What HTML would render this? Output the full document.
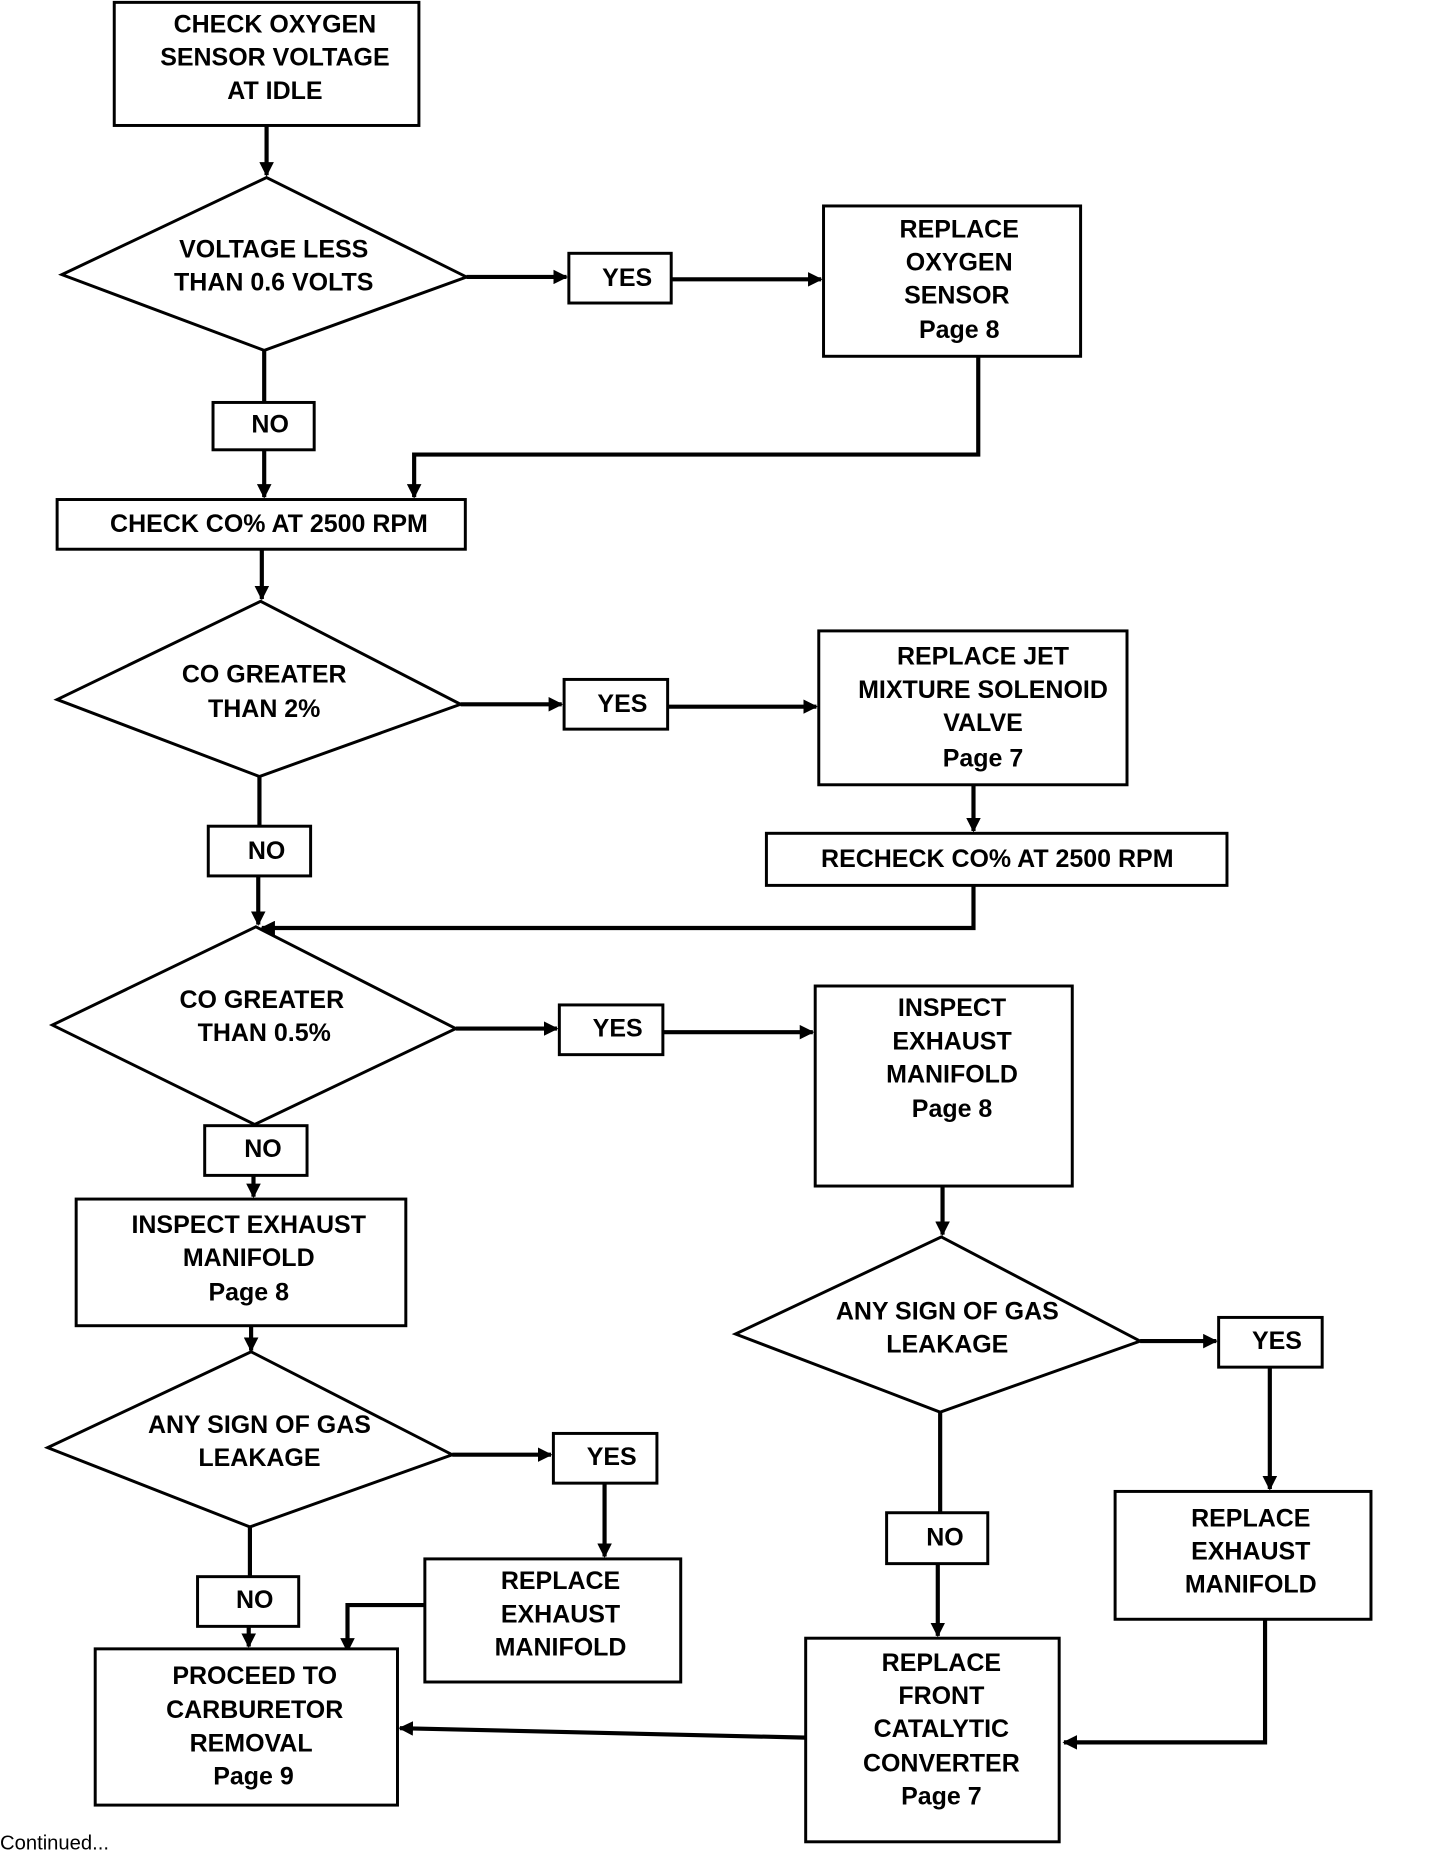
<!DOCTYPE html>
<html><head><meta charset="utf-8"><style>
html,body{margin:0;padding:0;background:#fff;}
svg{display:block;}
text{font-family:"Liberation Sans",Arial,sans-serif;font-weight:bold;font-size:21px;fill:#000;text-anchor:middle;dominant-baseline:middle;}
.b{fill:#fff;stroke:#000;stroke-width:2.5;}
.l{fill:none;stroke:#000;stroke-width:3.5;}
</style></head><body>
<svg width="1440" height="1856" viewBox="0 0 1210 1568" preserveAspectRatio="none" xmlns="http://www.w3.org/2000/svg">
<defs><marker id="a" viewBox="0 0 10 10" refX="9" refY="5" markerWidth="3.5" markerHeight="3.5" orient="auto"><path d="M0,0 L10,5 L0,10 z" fill="#000"/></marker></defs>

<!-- connectors -->
<g class="l">
<path d="M224,106 V148" marker-end="url(#a)"/>
<path d="M392,234 H476" marker-end="url(#a)"/>
<path d="M564,236 H690" marker-end="url(#a)"/>
<path d="M222,296 V340"/>
<path d="M222,380 V420" marker-end="url(#a)"/>
<path d="M822,301 V384 H348 V420" marker-end="url(#a)"/>
<path d="M220,464 V506" marker-end="url(#a)"/>
<path d="M387,595 H472" marker-end="url(#a)"/>
<path d="M561,597 H686" marker-end="url(#a)"/>
<path d="M818,663 V702" marker-end="url(#a)"/>
<path d="M218,656 V698"/>
<path d="M217,740 V781" marker-end="url(#a)"/>
<path d="M818,748 V784 H220" marker-end="url(#a)"/>
<path d="M383,869 H468" marker-end="url(#a)"/>
<path d="M557,872 H683" marker-end="url(#a)"/>
<path d="M214,950 V951"/>
<path d="M214,930 V951"/>
<path d="M213,993 V1011" marker-end="url(#a)"/>
<path d="M211,1120 V1141" marker-end="url(#a)"/>
<path d="M380,1229 H463" marker-end="url(#a)"/>
<path d="M508,1253 V1315" marker-end="url(#a)"/>
<path d="M357,1356 H292 V1395" marker-end="url(#a)"/>
<path d="M210,1290 V1332"/>
<path d="M209,1374 V1391" marker-end="url(#a)"/>
<path d="M792,1002 V1043" marker-end="url(#a)"/>
<path d="M958,1133 H1022" marker-end="url(#a)"/>
<path d="M1067,1155 V1258" marker-end="url(#a)"/>
<path d="M1063,1368 V1472 H894" marker-end="url(#a)"/>
<path d="M790,1193 V1278"/>
<path d="M788,1321 V1382" marker-end="url(#a)"/>
<path d="M677,1468 L336,1460" marker-end="url(#a)"/>
</g>

<!-- shapes -->
<rect class="b" x="96" y="2" width="256" height="104"/>
<polygon class="b" points="224,150 392,234 222,296 52,232"/>
<rect class="b" x="478" y="214" width="86" height="42"/>
<rect class="b" x="692" y="174" width="216" height="127"/>
<rect class="b" x="179" y="340" width="85" height="40"/>
<rect class="b" x="48" y="422" width="343" height="42"/>
<polygon class="b" points="219,508 387,595 218,656 48,591"/>
<rect class="b" x="474" y="574" width="87" height="42"/>
<rect class="b" x="688" y="533" width="259" height="130"/>
<rect class="b" x="644" y="704" width="387" height="44"/>
<rect class="b" x="175" y="698" width="86" height="42"/>
<polygon class="b" points="215,783 383,869 214,950 44,866"/>
<rect class="b" x="470" y="849" width="87" height="42"/>
<rect class="b" x="685" y="833" width="216" height="169"/>
<rect class="b" x="172" y="951" width="86" height="42"/>
<rect class="b" x="64" y="1013" width="277" height="107"/>
<polygon class="b" points="211,1142 380,1229 210,1290 40,1223"/>
<rect class="b" x="465" y="1211" width="87" height="42"/>
<rect class="b" x="357" y="1317" width="215" height="104"/>
<rect class="b" x="166" y="1332" width="85" height="42"/>
<rect class="b" x="80" y="1393" width="254" height="132"/>
<polygon class="b" points="791,1045 958,1133 790,1193 618,1127"/>
<rect class="b" x="1024" y="1113" width="87" height="42"/>
<rect class="b" x="937" y="1260" width="215" height="108"/>
<rect class="b" x="745" y="1278" width="85" height="43"/>
<rect class="b" x="677" y="1384" width="213" height="172"/>

<!-- labels -->
<text x="231" y="22">CHECK OXYGEN</text>
<text x="231" y="50">SENSOR VOLTAGE</text>
<text x="231" y="78">AT IDLE</text>
<text x="230" y="212">VOLTAGE LESS</text>
<text x="230" y="240">THAN 0.6 VOLTS</text>
<text x="527" y="236">YES</text>
<text x="806" y="195">REPLACE</text>
<text x="806" y="223">OXYGEN</text>
<text x="804" y="251">SENSOR</text>
<text x="806" y="280">Page 8</text>
<text x="227" y="360">NO</text>
<text x="226" y="444">CHECK CO% AT 2500 RPM</text>
<text x="222" y="571">CO GREATER</text>
<text x="222" y="600">THAN 2%</text>
<text x="523" y="596">YES</text>
<text x="826" y="556">REPLACE JET</text>
<text x="826" y="584">MIXTURE SOLENOID</text>
<text x="826" y="612">VALVE</text>
<text x="826" y="642">Page 7</text>
<text x="838" y="727">RECHECK CO% AT 2500 RPM</text>
<text x="224" y="720">NO</text>
<text x="220" y="846">CO GREATER</text>
<text x="222" y="874">THAN 0.5%</text>
<text x="519" y="870">YES</text>
<text x="800" y="853">INSPECT</text>
<text x="800" y="881">EXHAUST</text>
<text x="800" y="909">MANIFOLD</text>
<text x="800" y="938">Page 8</text>
<text x="221" y="972">NO</text>
<text x="209" y="1036">INSPECT EXHAUST</text>
<text x="209" y="1064">MANIFOLD</text>
<text x="209" y="1093">Page 8</text>
<text x="218" y="1205">ANY SIGN OF GAS</text>
<text x="218" y="1233">LEAKAGE</text>
<text x="514" y="1232">YES</text>
<text x="471" y="1337">REPLACE</text>
<text x="471" y="1365">EXHAUST</text>
<text x="471" y="1393">MANIFOLD</text>
<text x="214" y="1353">NO</text>
<text x="214" y="1417">PROCEED TO</text>
<text x="214" y="1446">CARBURETOR</text>
<text x="211" y="1474">REMOVAL</text>
<text x="213" y="1502">Page 9</text>
<text x="796" y="1109">ANY SIGN OF GAS</text>
<text x="796" y="1137">LEAKAGE</text>
<text x="1073" y="1134">YES</text>
<text x="1051" y="1284">REPLACE</text>
<text x="1051" y="1312">EXHAUST</text>
<text x="1051" y="1340">MANIFOLD</text>
<text x="794" y="1300">NO</text>
<text x="791" y="1406">REPLACE</text>
<text x="791" y="1434">FRONT</text>
<text x="791" y="1462">CATALYTIC</text>
<text x="791" y="1491">CONVERTER</text>
<text x="791" y="1519">Page 7</text>
<text x="0" y="1558" style="font-weight:normal;font-size:17px;text-anchor:start">Continued...</text>
</svg>
</body></html>
